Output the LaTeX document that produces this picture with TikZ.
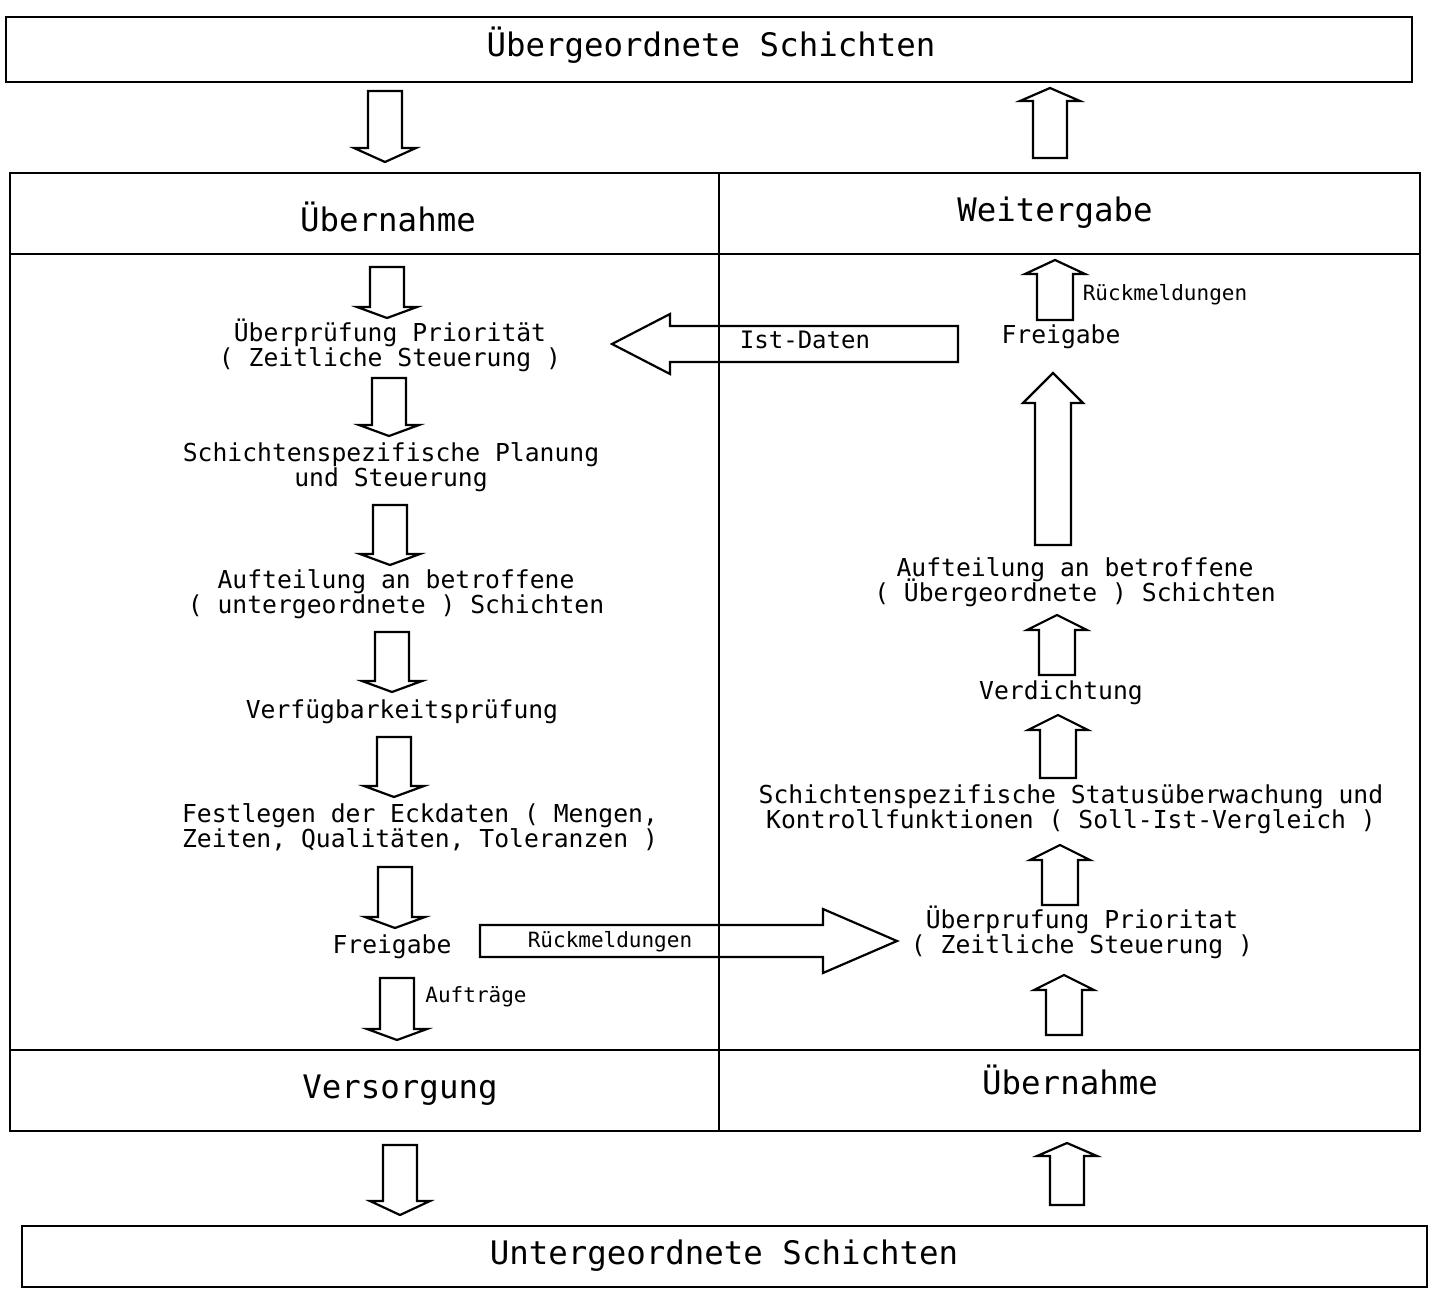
\documentclass[tikz,border=0pt]{standalone}
\usepackage{fontspec}
\setmainfont{DejaVu Sans Mono}
\usetikzlibrary{calc}
\lineskiplimit=-100pt
\begin{document}
\begin{tikzpicture}[x=1pt,y=-1pt,
  frame/.style={line width=2.8pt},
  divider/.style={line width=1.6pt},
  blk/.style n args={3}{line width=2.2pt, line join=miter, to path={
    ($(\tikztostart)!#1!90:(\tikztotarget)$)
    -- ($(\tikztotarget)!#3!(\tikztostart)!#1!-90:(\tikztostart)$)
    -- ($(\tikztotarget)!#3!(\tikztostart)!#2!-90:(\tikztostart)$)
    -- (\tikztotarget)
    -- ($(\tikztotarget)!#3!(\tikztostart)!#2!90:(\tikztostart)$)
    -- ($(\tikztotarget)!#3!(\tikztostart)!#1!90:(\tikztostart)$)
    -- ($(\tikztostart)!#1!-90:(\tikztotarget)$)
    -- cycle}},
  big/.style={font=\fontsize{32.4}{34}\selectfont, inner sep=0pt},
  txt/.style={font=\fontsize{24.7}{25}\selectfont, align=center, inner sep=0pt},
  lbl/.style={font=\fontsize{24}{25}\selectfont, inner sep=0pt},
  small/.style={font=\fontsize{21}{22}\selectfont, inner sep=0pt}]
\useasboundingbox (0,0) rectangle (1438,1292);
\fill[white] (0,0) rectangle (1438,1292);

% boxes
\draw[frame] (6,17) rectangle (1412,82);
\draw[frame] (10,173) rectangle (1420,1131);
\draw[frame] (10,254) -- (1420,254);
\draw[frame] (10,1050) -- (1420,1050);
\draw[divider] (719,173) -- (719,1131);
\draw[frame] (22,1226) rectangle (1427,1287);

% titles and headers
\node[big] (top) at (711,45) {Übergeordnete Schichten};
\node[big] (bottom) at (724,1256) {Untergeordnete Schichten};
\node[big] (hL) at (388,217) {Übernahme};
\node[big] (hR) at (1055,213) {Weitergabe};
\node[big] (fL) at (400,1090) {Versorgung};
\node[big] (fR) at (1070,1080) {Übernahme};

% left column texts
\node[txt] (l1) at (390,345) {Überprüfung Priorität\\( Zeitliche Steuerung )};
\node[txt] (l2) at (391,467) {Schichtenspezifische Planung\\und Steuerung};
\node[txt] (l3) at (396,594) {Aufteilung an betroffene\\( untergeordnete ) Schichten};
\node[txt] (l4) at (402,712) {Verfügbarkeitsprüfung};
\node[txt] (l5) at (420,827) {Festlegen der Eckdaten ( Mengen,\\Zeiten, Qualitäten, Toleranzen )};
\node[txt] (l6) at (392,947) {Freigabe};
\node[small] (auf) at (476,997) {Aufträge};

% right column texts
\node[small] (rm1) at (1165,295) {Rückmeldungen};
\node[txt] (r1) at (1061,337) {Freigabe};
\node[txt] (r2) at (1075,582) {Aufteilung an betroffene\\( Übergeordnete ) Schichten};
\node[txt] (r3) at (1061,693) {Verdichtung};
\node[txt] (r4) at (1071,809) {Schichtenspezifische Statusüberwachung und\\Kontrollfunktionen ( Soll-Ist-Vergleich )};
\node[txt] (r5) at (1082,932) {Überprufung Prioritat\\( Zeitliche Steuerung )};

% arrow end points
\coordinate (o1s) at (385,91);   \coordinate (o1t) at (385,162);
\coordinate (o2s) at (1050,158); \coordinate (o2t) at (1050,88);
\coordinate (o3s) at (400,1145); \coordinate (o3t) at (400,1215);
\coordinate (o4s) at (1067,1205);\coordinate (o4t) at (1067,1143);

\coordinate (a1s) at (387,267);  \coordinate (a1t) at (387,318);
\coordinate (a2s) at (389,378);  \coordinate (a2t) at (389,436);
\coordinate (a3s) at (390,505);  \coordinate (a3t) at (390,565);
\coordinate (a4s) at (392,632);  \coordinate (a4t) at (392,692);
\coordinate (a5s) at (394,737);  \coordinate (a5t) at (394,797);
\coordinate (a6s) at (395,867);  \coordinate (a6t) at (395,928);
\coordinate (a7s) at (397,978);  \coordinate (a7t) at (397,1040);

\coordinate (b1s) at (1055,320); \coordinate (b1t) at (1055,260);
\coordinate (b2s) at (1053,545); \coordinate (b2t) at (1053,373);
\coordinate (b3s) at (1057,675); \coordinate (b3t) at (1057,615);
\coordinate (b4s) at (1058,778); \coordinate (b4t) at (1058,715);
\coordinate (b5s) at (1060,905); \coordinate (b5t) at (1060,845);
\coordinate (b6s) at (1064,1035);\coordinate (b6t) at (1064,975);

\coordinate (ists) at (958,344); \coordinate (istt) at (612,344);
\coordinate (rucks) at (480,941); \coordinate (ruckt) at (897,941);

% outside arrows
\draw[blk={17pt}{31pt}{14pt}] (o1s) to (o1t);
\draw[blk={17pt}{30pt}{13pt}] (o2s) to (o2t);
\draw[blk={17pt}{30pt}{14pt}] (o3s) to (o3t);
\draw[blk={17pt}{30pt}{13pt}] (o4s) to (o4t);

% left column arrows
\draw[blk={17pt}{30pt}{11pt}] (a1s) to (a1t);
\draw[blk={17pt}{30pt}{11pt}] (a2s) to (a2t);
\draw[blk={17pt}{30pt}{11pt}] (a3s) to (a3t);
\draw[blk={17pt}{30pt}{11pt}] (a4s) to (a4t);
\draw[blk={17pt}{30pt}{11pt}] (a5s) to (a5t);
\draw[blk={17pt}{30pt}{11pt}] (a6s) to (a6t);
\draw[blk={17pt}{30pt}{11pt}] (a7s) to (a7t);

% right column arrows
\draw[blk={18pt}{30pt}{14pt}] (b1s) to (b1t);
\draw[blk={18pt}{30pt}{30pt}] (b2s) to (b2t);
\draw[blk={18pt}{30pt}{15pt}] (b3s) to (b3t);
\draw[blk={18pt}{30pt}{15pt}] (b4s) to (b4t);
\draw[blk={18pt}{30pt}{15pt}] (b5s) to (b5t);
\draw[blk={18pt}{30pt}{15pt}] (b6s) to (b6t);

% horizontal arrows
\draw[blk={18pt}{30pt}{58pt}] (ists) to (istt);
\draw[blk={16pt}{32pt}{74pt}] (rucks) to (ruckt);
\node[lbl] (ist) at (805,340) {Ist-Daten};
\node[small] (rm2) at (610,942) {Rückmeldungen};
\end{tikzpicture}
\end{document}
